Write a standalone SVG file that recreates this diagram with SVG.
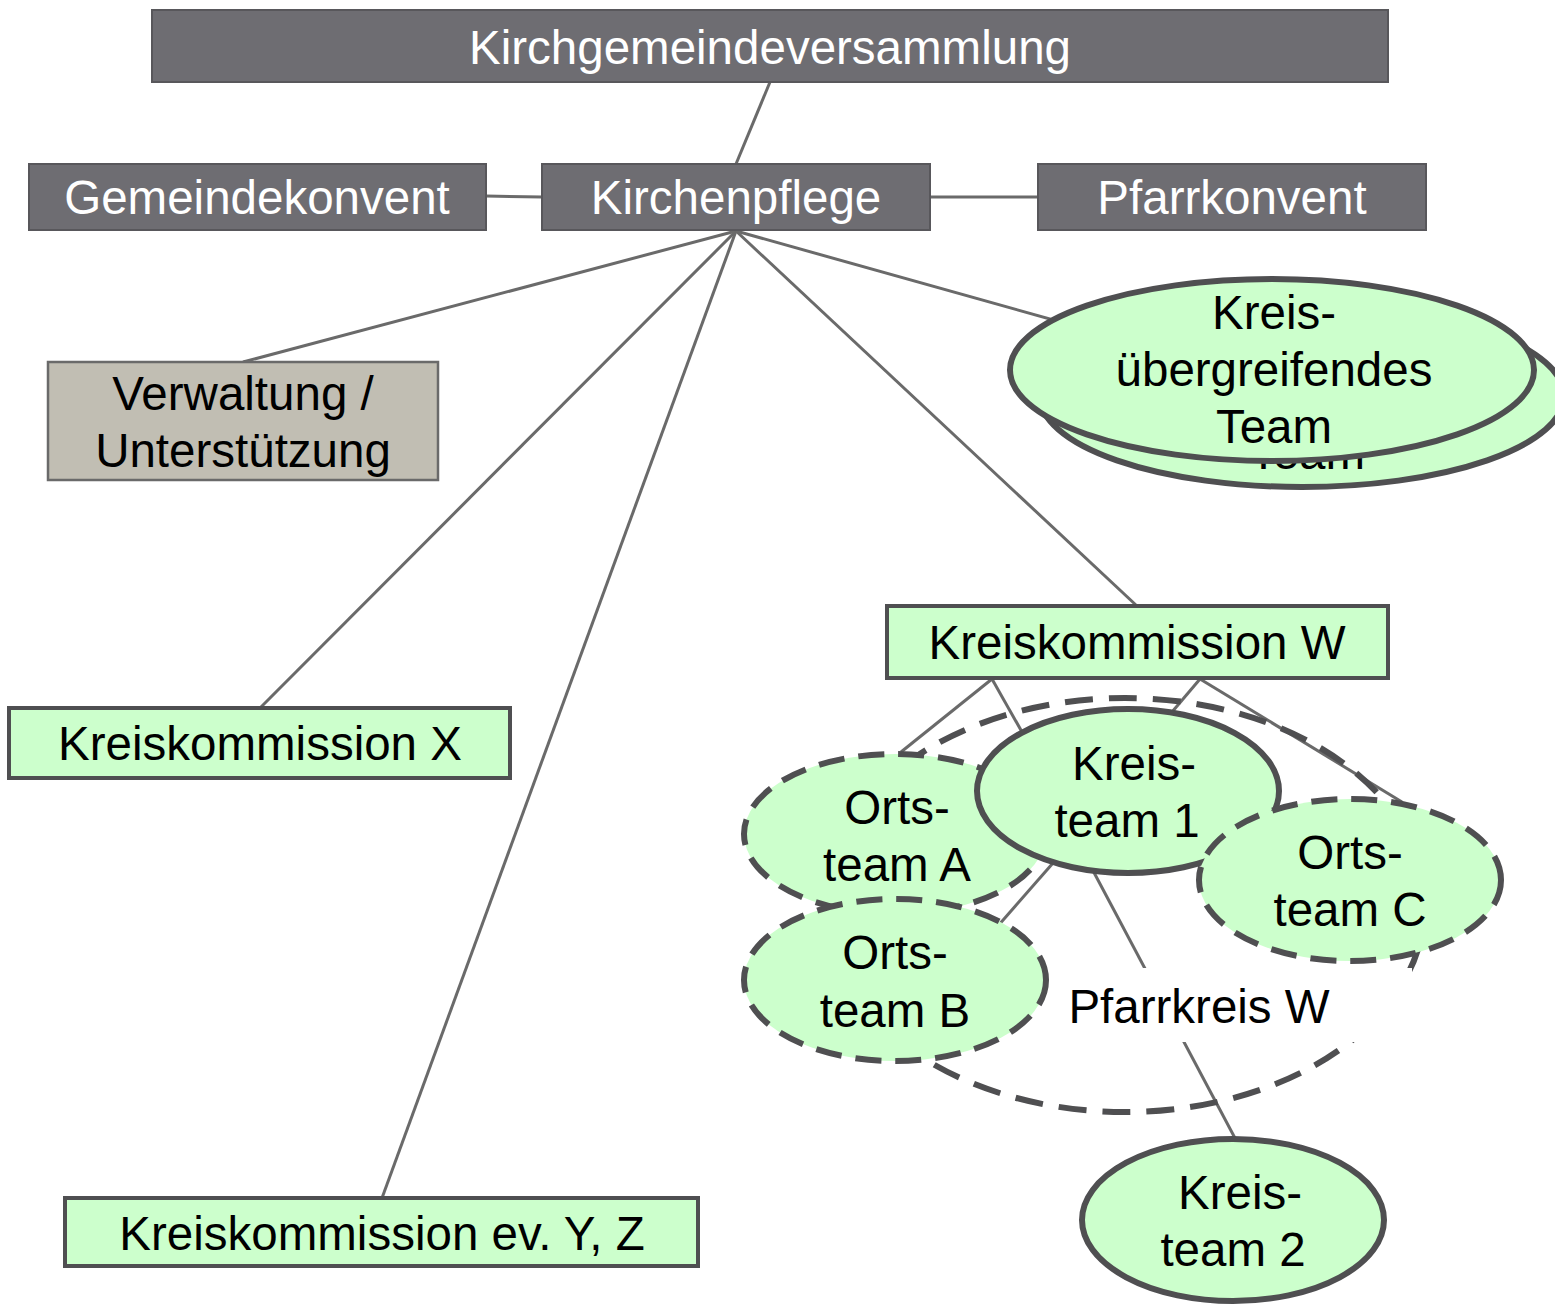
<svg xmlns="http://www.w3.org/2000/svg" width="1555" height="1305" viewBox="0 0 1555 1305">
<style>
  text { font-family: "Liberation Sans", Arial, sans-serif; font-size: 47.5px; text-anchor: middle; fill: #000000; }
  .dark rect { fill: #6e6d72; stroke: #58575b; stroke-width: 2; }
  .dark text { fill: #ffffff; }
  .grey rect { fill: #c1beb3; stroke: #6a6a6a; stroke-width: 2.5; }
  .green rect { fill: #ccffcc; stroke: #4f4f51; stroke-width: 4; }
  .ell ellipse { fill: #ccffcc; stroke: #4f4f51; stroke-width: 6; }
  .dash ellipse { fill: #ccffcc; stroke: #4f4f51; stroke-width: 6; stroke-dasharray: 26 14; }
  #connectors line { stroke: #6a6a6a; stroke-width: 3; }
</style>

<g id="connectors">
  <line x1="770" y1="82" x2="736" y2="164"/>
  <line x1="486" y1="196" x2="542" y2="197"/>
  <line x1="930" y1="197" x2="1038" y2="197"/>
  <line x1="736" y1="231" x2="243" y2="362"/>
  <line x1="736" y1="231" x2="260" y2="708"/>
  <line x1="736" y1="231" x2="382" y2="1198"/>
  <line x1="736" y1="231" x2="1137" y2="606"/>
  <line x1="736" y1="231" x2="1100" y2="333"/>
  <line x1="992" y1="679" x2="901" y2="752"/>
  <line x1="992" y1="679" x2="1022" y2="732"/>
  <line x1="1200" y1="679" x2="1172" y2="712"/>
  <line x1="1200" y1="679" x2="1402" y2="802"/>
  <line x1="1060" y1="855" x2="990" y2="935"/>
  <line x1="1090" y1="865" x2="1236" y2="1140"/>
</g>

<g id="pfarrkreis-w">
  <ellipse cx="1125" cy="905" rx="300" ry="207" fill="none" stroke="#4f4f51" stroke-width="6" stroke-dasharray="28 16"/>
  <rect x="1052" y="968" width="360" height="74" fill="#ffffff"/>
  <text x="1199" y="1023">Pfarrkreis W</text>
</g>

<g id="kirchgemeindeversammlung" class="dark">
  <rect x="152" y="10" width="1236" height="72"/>
  <text x="770" y="64">Kirchgemeindeversammlung</text>
</g>
<g id="gemeindekonvent" class="dark">
  <rect x="29" y="164" width="457" height="66"/>
  <text x="257" y="214">Gemeindekonvent</text>
</g>
<g id="kirchenpflege" class="dark">
  <rect x="542" y="164" width="388" height="66"/>
  <text x="736" y="214">Kirchenpflege</text>
</g>
<g id="pfarrkonvent" class="dark">
  <rect x="1038" y="164" width="388" height="66"/>
  <text x="1232" y="214">Pfarrkonvent</text>
</g>

<g id="verwaltung" class="grey">
  <rect x="48" y="362" width="390" height="118"/>
  <text x="243" y="410">Verwaltung /</text>
  <text x="243" y="467">Unterstützung</text>
</g>

<g id="kreiskommission-x" class="green">
  <rect x="9" y="708" width="501" height="70"/>
  <text x="260" y="760">Kreiskommission X</text>
</g>
<g id="kreiskommission-w" class="green">
  <rect x="887" y="606" width="501" height="72"/>
  <text x="1137" y="659">Kreiskommission W</text>
</g>
<g id="kreiskommission-yz" class="green">
  <rect x="65" y="1198" width="633" height="68"/>
  <text x="382" y="1250">Kreiskommission ev. Y, Z</text>
</g>

<g id="kreisuebergreifend-back" class="ell">
  <ellipse cx="1302" cy="396" rx="262" ry="91"/>
  <text x="1307" y="469">Team</text>
</g>
<g id="kreisuebergreifend" class="ell">
  <ellipse cx="1272" cy="370" rx="262" ry="91"/>
  <text x="1274" y="329">Kreis-</text>
  <text x="1274" y="386">übergreifendes</text>
  <text x="1274" y="443">Team</text>
</g>

<g id="ortsteam-a" class="dash">
  <ellipse cx="895" cy="834" rx="151" ry="80"/>
  <text x="897" y="824">Orts-</text>
  <text x="897" y="881">team A</text>
</g>
<g id="ortsteam-b" class="dash">
  <ellipse cx="895" cy="980" rx="151" ry="81"/>
  <text x="895" y="969">Orts-</text>
  <text x="895" y="1027">team B</text>
</g>
<g id="kreisteam-1" class="ell">
  <ellipse cx="1128" cy="791" rx="151" ry="82"/>
  <text x="1134" y="780">Kreis-</text>
  <text x="1127" y="837">team 1</text>
</g>
<g id="ortsteam-c" class="dash">
  <ellipse cx="1350" cy="880" rx="151" ry="81"/>
  <text x="1350" y="869">Orts-</text>
  <text x="1350" y="926">team C</text>
</g>
<g id="kreisteam-2" class="ell">
  <ellipse cx="1233" cy="1220" rx="151" ry="81"/>
  <text x="1240" y="1209">Kreis-</text>
  <text x="1233" y="1266">team 2</text>
</g>
</svg>
